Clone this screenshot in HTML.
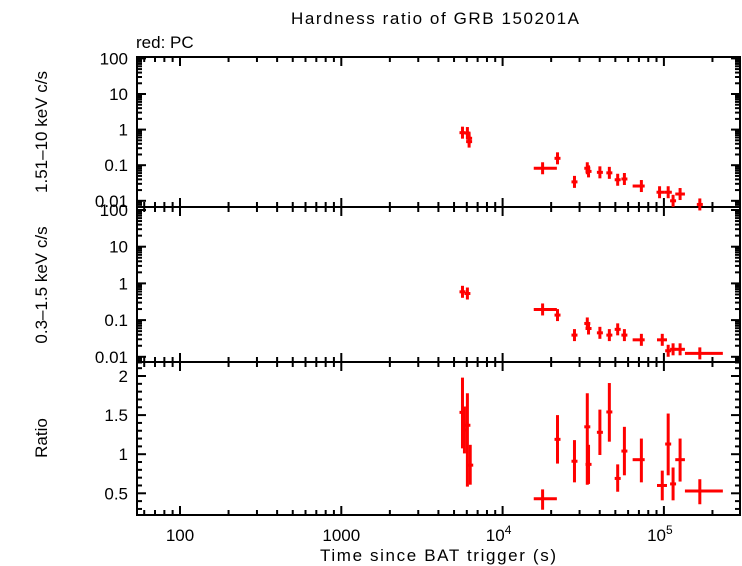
<!DOCTYPE html>
<html><head><meta charset="utf-8"><style>
body{margin:0;background:#fff}
svg{display:block;font-family:"Liberation Sans",sans-serif}
</style></head><body>
<svg id="c" width="742" height="566" xmlns="http://www.w3.org/2000/svg"></svg>
<script>
// ---- data ----
const hardT   = [5640,6050,6200,6200,17700,21900,27900,33500,34100,40100,45900,51700,56900,72500,94000,106300,114000,126000,167000];
const hardV   = [0.82,0.8,0.46,0.57,0.082,0.156,0.034,0.082,0.067,0.063,0.061,0.039,0.041,0.026,0.0174,0.0174,0.01,0.0155,0.0079];
const hardXlo = [5600,5950,6100,6100,15600,21700,27600,33200,33800,39600,45400,51200,56300,64000,90000,101000,112500,117600,166000];
const hardXhi = [5700,6150,6300,6300,21700,22100,28200,33800,34400,40600,46400,52200,57500,76000,101000,112000,115500,135000,168000];
const softT   = [5640,6050,17700,21900,27900,33500,34100,40100,45900,51700,56900,72500,97700,106300,114000,126000,167000];
const softV   = [0.59,0.53,0.195,0.137,0.039,0.081,0.059,0.045,0.039,0.056,0.039,0.029,0.029,0.0146,0.016,0.016,0.0124];
const softXlo = [5550,5950,15600,21700,27600,33200,33800,39600,45400,51200,56300,64000,90600,104500,112500,117600,135000];
const softXhi = [5750,6200,21700,22100,28200,33800,34400,40600,46400,52200,57500,76000,104500,109000,115500,135000,232000];
const ratT    = [5640,5800,6050,6300,17700,21900,27900,33500,34100,40100,45900,51700,56900,72500,97700,106300,114000,126000,167000];
const ratV    = [1.535,1.31,1.37,0.86,0.43,1.19,0.91,1.35,0.87,1.28,1.54,0.69,1.04,0.93,0.60,1.13,0.62,0.93,0.53];
const ratLo   = [1.075,1.01,0.585,0.61,0.29,0.88,0.64,0.61,0.62,0.99,1.16,0.52,0.73,0.64,0.41,0.73,0.41,0.65,0.36];
const ratHi   = [1.98,1.61,1.78,1.12,0.55,1.5,1.18,1.78,1.12,1.57,1.91,0.87,1.35,1.2,0.79,1.52,0.83,1.2,0.68];
const ratXlo  = [5600,5750,5950,6200,15600,21700,27600,33200,33800,39600,45400,51200,56300,64000,90600,104500,112500,117600,135000];
const ratXhi  = [5700,5850,6150,6400,21700,22100,28200,33800,34400,40600,46400,52200,57500,76000,104500,109000,115500,135000,232000];
const xTicks  = [100,1000,10000,100000];
const countTicks = [100,10,1,0.1,0.01];
const countLabels = ["100","10","1","0.1","0.01"];
const ratioTicks = [0.5,1,1.5,2];
const ratioLabels = ["0.5","1","1.5","2"];

// ---- scales ----
const L=137,R=740;
const X=t=>180+(Math.log10(t)-2)*161.3;
const Y1=v=>58.4+(2-Math.log10(v))*35.6;
const Y2=v=>210+(2-Math.log10(v))*36.7;
const Y3=v=>493.3-(v-0.5)*78.2;
const panels=[{top:57,bot:207,y:Y1},{top:207,bot:362,y:Y2},{top:362,bot:515,y:Y3}];

const svg=document.getElementById('c');
const NS='http://www.w3.org/2000/svg';
function mk(tag,at,parent){const e=document.createElementNS(NS,tag);for(const k in at)e.setAttribute(k,at[k]);(parent||svg).appendChild(e);return e;}
function ln(x1,y1,x2,y2,col,w,p){return mk('line',{x1,y1,x2,y2,stroke:col,'stroke-width':w},p);}
function tx(x,y,s,anchor,size,p){const e=mk('text',{x,y,'text-anchor':anchor,'font-size':size,fill:'#000'},p);e.textContent=s;return e;}

// frames & ticks
panels.forEach((p,i)=>{
  const g=mk('g',{});
  
  
  mk('rect',{x:L,y:p.top,width:R-L,height:p.bot-p.top,fill:'none',stroke:'#000','stroke-width':2},g);
  for(let d=1;d<=5;d++){for(let m=1;m<10;m++){const t=m*Math.pow(10,d);const x=X(t);if(x<L||x>R)continue;const len=m==1?9:5;
    ln(x,p.top,x,p.top+len,'#000',2,g);ln(x,p.bot,x,p.bot-len,'#000',2,g);}}
  if(i<2){
    for(let d=-3;d<=2;d++){for(let m=1;m<10;m++){const v=m*Math.pow(10,d);const y=p.y(v);if(y<p.top-0.5||y>p.bot+0.5)continue;const len=m==1?9:5;
      ln(L,y,L+len,y,'#000',2,g);ln(R,y,R-len,y,'#000',2,g);}}
    countTicks.forEach((v,k)=>{const y=p.y(v);if(y<p.top-3||y>p.bot+3)return;tx(L-9,y+6,countLabels[k],'end',17,g);});
  } else {
    for(let v=0.3;v<=2.15;v+=0.1){const y=p.y(v);const maj=Math.abs(v*2-Math.round(v*2))<0.01;const len=maj?9:5;
      ln(L,y,L+len,y,'#000',2,g);ln(R,y,R-len,y,'#000',2,g);}
    ratioTicks.forEach((v,k)=>{tx(L-9,p.y(v)+6,ratioLabels[k],'end',17,g);});
  }
});
// x tick labels
const xl=mk('g',{});


tx(X(100),541,'100','middle',17,xl);
tx(X(1000),541,'1000','middle',17,xl);
let e=tx(X(10000)-4,541,'10','middle',17,xl);mk('tspan',{dy:-7,'font-size':12},e).textContent='4';
e=tx(X(100000)-4,541,'10','middle',17,xl);mk('tspan',{dy:-7,'font-size':12},e).textContent='5';

// series
function series(name,T,V,Xlo,Xhi,Lo,Hi,ys){
  const g=mk('g',{});
  
  
  T.forEach((t,i)=>{
    const x=X(t),y=ys(V[i]);
    const lo=Lo?ys(Lo[i]):y+6,hi=Hi?ys(Hi[i]):y-6;
    const pt=mk('g',{},g);
    
    
    ln(Math.min(X(Xlo[i]),x-3),y,Math.max(X(Xhi[i]),x+3),y,'#f00',3,pt);
    ln(x,lo,x,hi,'#f00',3,pt);
  });
}
series('hard-band-series',hardT,hardV,hardXlo,hardXhi,null,null,Y1);
series('soft-band-series',softT,softV,softXlo,softXhi,null,null,Y2);
series('ratio-series',ratT,ratV,ratXlo,ratXhi,ratLo,ratHi,Y3);

// titles
let t=tx(435,24,'Hardness ratio of GRB 150201A','middle',17);
t.setAttribute('textLength','288');

t=tx(136,48,'red: PC','start',17);

t=tx(438,561,'Time since BAT trigger (s)','middle',17);
t.setAttribute('textLength','236');

[['1.51–10 keV c/s',132,'y-axis-title-hard'],['0.3–1.5 keV c/s',285,'y-axis-title-soft'],['Ratio',438,'y-axis-title-ratio']].forEach(a=>{
  const e=tx(47,a[1],a[0],'middle',17);e.setAttribute('transform','rotate(-90 47 '+a[1]+')');
  
  
});
</script>
</body></html>
